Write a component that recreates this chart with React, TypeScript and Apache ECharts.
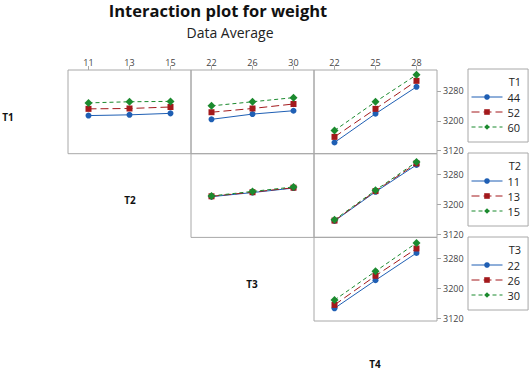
import React, { useEffect, useRef } from "react";
import * as echarts from "echarts";

// Factor levels (tick labels)
const T1_LEVELS = ["44", "52", "60"];
const T2_LEVELS = ["11", "13", "15"];
const T3_LEVELS = ["22", "26", "30"];
const T4_LEVELS = ["22", "25", "28"];
const Y_TICKS = [3120, 3200, 3280];

// Means: each panel = trace levels (rows) x column factor levels
const T1_BY_T2 = [
  [3214, 3216, 3220],
  [3232, 3233, 3237],
  [3248, 3251, 3252],
];
const T1_BY_T3 = [
  [3204, 3218, 3227],
  [3223, 3233, 3245],
  [3240, 3251, 3262],
];
const T1_BY_T4 = [
  [3142, 3219, 3291],
  [3157, 3232, 3307],
  [3174, 3251, 3323],
];
const T2_BY_T3 = [
  [3221, 3232, 3244],
  [3222, 3233, 3245],
  [3223, 3235, 3247],
];
const T2_BY_T4 = [
  [3156, 3234, 3306],
  [3157, 3236, 3310],
  [3159, 3238, 3314],
];
const T3_BY_T4 = [
  [3146, 3221, 3294],
  [3155, 3233, 3306],
  [3168, 3245, 3321],
];

const FONT = "'Open Sans', 'Noto Sans', sans-serif";
const COLORS = ["#1f5fb4", "#a3191c", "#1b8a2e"];
const SYMBOLS = ["circle", "rect", "diamond"];
const SYMBOL_SIZES = [6, 6, 8];
const DASHES: any[] = ["solid", [8, 4], [4, 3]];
const FRAME = "#a8a8a8";

export default function App() {
  const ref = useRef<HTMLDivElement>(null);
  useEffect(() => {
    if (!ref.current) return;
    const chart = echarts.init(ref.current, null, { renderer: "svg" });

    const colLeft = [68, 191, 314];
    const rowTop = [70, 153.7, 237.3];
    const W = 123;
    const H = 83.7;

    const panels = [
      { r: 0, c: 0, cats: T2_LEVELS, data: T1_BY_T2, trace: T1_LEVELS },
      { r: 0, c: 1, cats: T3_LEVELS, data: T1_BY_T3, trace: T1_LEVELS },
      { r: 0, c: 2, cats: T4_LEVELS, data: T1_BY_T4, trace: T1_LEVELS },
      { r: 1, c: 1, cats: T3_LEVELS, data: T2_BY_T3, trace: T2_LEVELS },
      { r: 1, c: 2, cats: T4_LEVELS, data: T2_BY_T4, trace: T2_LEVELS },
      { r: 2, c: 2, cats: T4_LEVELS, data: T3_BY_T4, trace: T3_LEVELS },
    ];

    const grid: any[] = [];
    const xAxis: any[] = [];
    const yAxis: any[] = [];
    const series: any[] = [];

    panels.forEach((p, g) => {
      grid.push({
        left: colLeft[p.c],
        top: rowTop[p.r],
        width: W,
        height: H,
        show: true,
        borderColor: FRAME,
        borderWidth: 1,
        backgroundColor: "transparent",
      });
      const topRow = p.r === 0;
      xAxis.push({
        type: "category",
        gridIndex: g,
        data: p.cats,
        position: "top",
        boundaryGap: true,
        axisLine: { show: false },
        axisTick: {
          show: topRow,
          alignWithLabel: true,
          length: 4,
          lineStyle: { color: FRAME },
        },
        axisLabel: {
          show: topRow,
          fontSize: 9,
          color: "#444",
          margin: 3,
          fontFamily: FONT,
        },
        splitLine: { show: false },
      });
      const rightCol = p.c === 2;
      yAxis.push({
        type: "value",
        gridIndex: g,
        position: "right",
        min: 3112,
        max: 3336,
        axisLine: { show: false },
        axisTick: {
          show: rightCol,
          customValues: Y_TICKS,
          length: 4,
          lineStyle: { color: FRAME },
        },
        axisLabel: {
          show: rightCol,
          customValues: Y_TICKS,
          formatter: (v: number) => String(v),
          fontSize: 9,
          color: "#444",
          margin: 6,
          fontFamily: FONT,
        },
        splitLine: { show: false },
      });
      p.data.forEach((vals, i) => {
        series.push({
          type: "line",
          name: p.trace[i],
          xAxisIndex: g,
          yAxisIndex: g,
          data: vals,
          symbol: SYMBOLS[i],
          symbolSize: SYMBOL_SIZES[i],
          showSymbol: true,
          lineStyle: { color: COLORS[i], width: 1, type: DASHES[i] },
          itemStyle: { color: COLORS[i] },
          z: 2 + i,
        });
      });
    });

    const legendTops = [69, 153, 237];
    const traceSets = [T1_LEVELS, T2_LEVELS, T3_LEVELS];
    const legend = traceSets.map((levels, k) => ({
      data: levels,
      orient: "vertical",
      left: 468,
      top: legendTops[k],
      padding: [22, 8, 9, 3],
      itemWidth: 31,
      itemHeight: 7,
      itemGap: 3,
      selectedMode: false,
      borderColor: FRAME,
      borderWidth: 1,
      lineStyle: { width: 1 },
      textStyle: { fontSize: 11, color: "#222", fontFamily: FONT, lineHeight: 12 },
    }));

    const titleNames = ["T1", "T2", "T3"];
    const graphic: any[] = [
      {
        type: "text",
        x: 218,
        y: 10,
        style: {
          text: "Interaction plot for weight",
          font: `bold 16.5px ${FONT}`,
          fill: "#111",
          textAlign: "center",
          textVerticalAlign: "middle",
        },
      },
      {
        type: "text",
        x: 230,
        y: 32,
        style: {
          text: "Data Average",
          font: `14px ${FONT}`,
          fill: "#222",
          textAlign: "center",
          textVerticalAlign: "middle",
        },
      },
      ...titleNames.map((t, k) => ({
        type: "text",
        x: 521,
        y: legendTops[k] + 12,
        style: {
          text: t,
          font: `11px ${FONT}`,
          fill: "#222",
          textAlign: "right",
          textVerticalAlign: "middle",
        },
      })),
      ...[
        { t: "T1", x: 8, y: 117 },
        { t: "T2", x: 130, y: 200 },
        { t: "T3", x: 252, y: 284 },
        { t: "T4", x: 375, y: 364 },
      ].map((l) => ({
        type: "text",
        x: l.x,
        y: l.y,
        style: {
          text: l.t,
          font: `bold 10px ${FONT}`,
          fill: "#111",
          textAlign: "center",
          textVerticalAlign: "middle",
        },
      })),
    ];

    chart.setOption({
      animation: false,
      backgroundColor: "#ffffff",
      grid,
      xAxis,
      yAxis,
      series,
      legend,
      graphic,
    });
    return () => chart.dispose();
  }, []);

  return (
    <div
      ref={ref}
      style={{ position: "fixed", left: 0, top: 0, width: 530, height: 372 }}
    />
  );
}
